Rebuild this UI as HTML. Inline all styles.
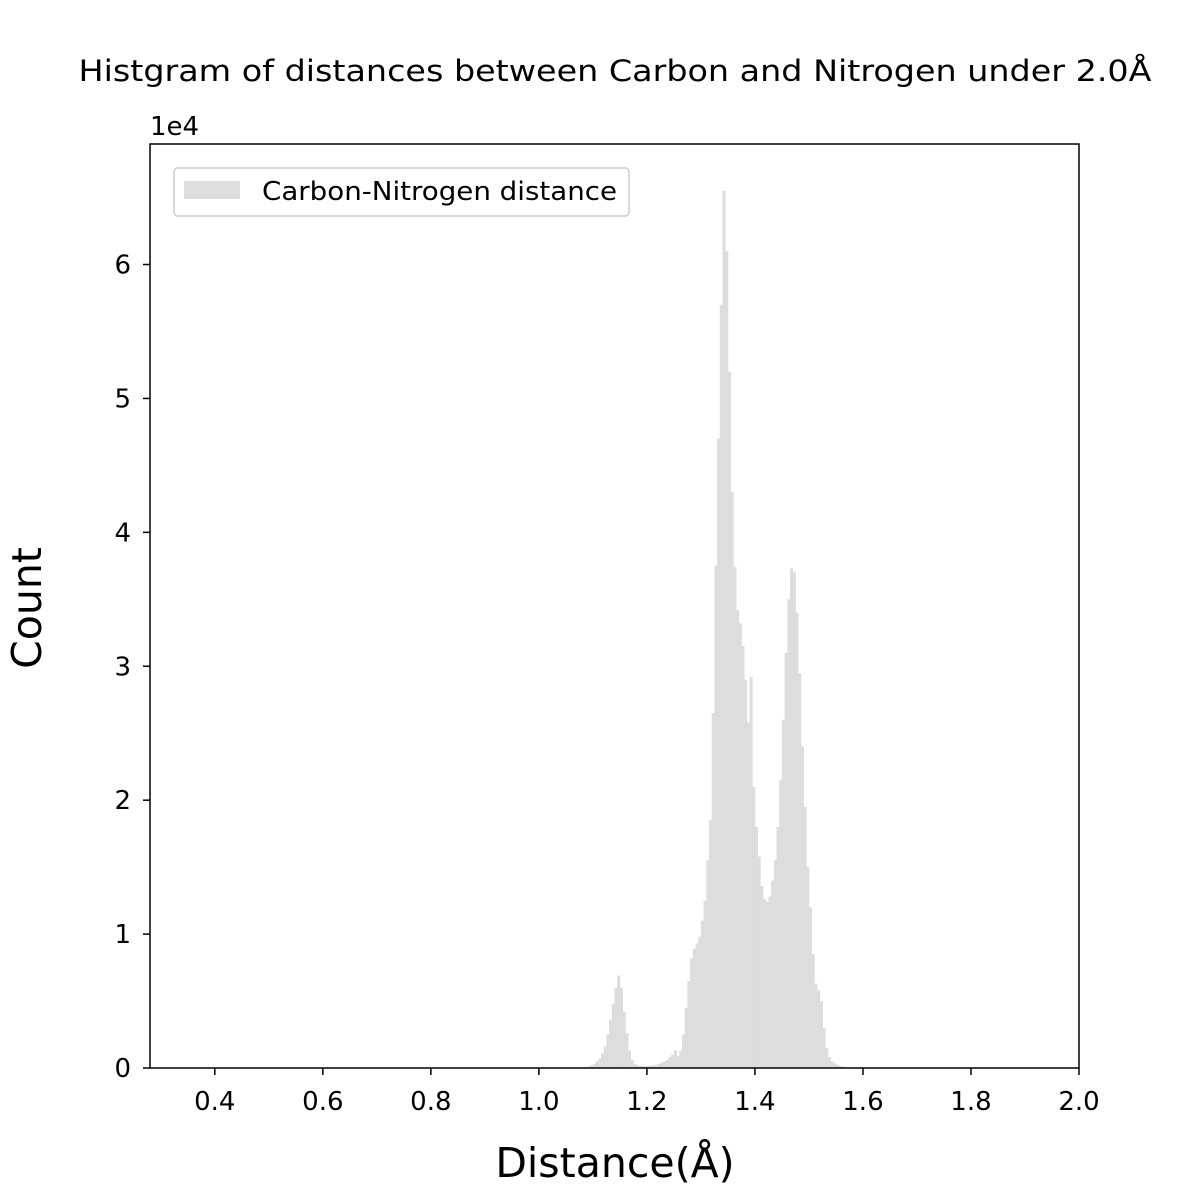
<!DOCTYPE html>
<html><head><meta charset="utf-8"><style>
body{margin:0;background:#fff}
svg{display:block;font-family:"DejaVu Sans","Liberation Sans",sans-serif}
</style></head><body>
<svg id="chart" width="1200" height="1200" viewBox="0 0 1200 1200">
<rect width="1200" height="1200" fill="#fff"/>
<text x="615" y="81" text-anchor="middle" font-size="29" textLength="1073" lengthAdjust="spacingAndGlyphs">Histgram of distances between Carbon and Nitrogen under 2.0Å</text>
<g id="bars"></g>
<g id="xticks"></g>
<g id="yticks"></g>
<rect x="150" y="144" width="929" height="924" fill="none" stroke="#000" stroke-width="1.5"/>
<text x="150" y="135" font-size="26">1e4</text>
<text x="615" y="1177" text-anchor="middle" font-size="41">Distance(Å)</text>
<text transform="translate(41,608) rotate(-90)" text-anchor="middle" font-size="41">Count</text>
<g>
<rect x="174" y="168" width="455" height="48" rx="4" fill="#fff" stroke="#ccc" stroke-width="1.5"/>
<rect x="184" y="181" width="56" height="18" fill="#dddddd"/>
<text x="262" y="200" font-size="26" textLength="355" lengthAdjust="spacingAndGlyphs">Carbon-Nitrogen distance</text>
</g>
</svg>
<script>
const binStart = 1.080;
const binWidth = 0.005;
const counts = [0.05,0.08,0.12,0.2,0.3,0.5,0.7,1.1,1.6,2.5,3.6,4.8,6.0,6.9,6.0,4.2,2.6,1.3,0.6,0.3,
0.2,0.15,0.15,0.15,0.15,0.2,0.2,0.25,0.3,0.4,0.5,0.6,0.8,1.0,1.3,0.9,1.3,2.5,4.5,6.5,8.2,8.9,9.3,9.8,11.0,12.5,15.5,18.5,26.5,37.5,47,57,65.5,61,52,43,37.4,34.2,33.2,31.5,29,25.8,29.2,21,18,15.8,13.6,12.6,12.4,12.8,14,15.5,18,21.5,26,31,35,37.3,37,34,29.5,24,19.5,15,12,8.5,6.3,5.8,5.0,3,1.5,0.8,0.5,0.35,0.25,0.15,0.1,0.08,0.05];
const xTicks = [0.4,0.6,0.8,1.0,1.2,1.4,1.6,1.8,2.0];
const yTicks = [0,1,2,3,4,5,6];
const X0=150,X1=1079,Y0=1068,Y1=144,xmin=0.28,xmax=2.0,ymax=6.9;
const sx=v=>X0+(v-xmin)/(xmax-xmin)*(X1-X0);
const sy=v=>Y0-v/ymax*(Y0-Y1);
const NS="http://www.w3.org/2000/svg";
const bars=document.getElementById('bars');
counts.forEach((c,i)=>{
  const a=binStart+i*binWidth, b=a+binWidth;
  const r=document.createElementNS(NS,'rect');
  r.setAttribute('x',sx(a));r.setAttribute('width',sx(b)-sx(a)+0.4);
  r.setAttribute('y',sy(c/10));r.setAttribute('height',Y0-sy(c/10));
  r.setAttribute('fill','#dddddd');
  
  
  bars.appendChild(r);
});
const xg=document.getElementById('xticks');
xTicks.forEach(t=>{
  const x=sx(t);
  const l=document.createElementNS(NS,'line');
  l.setAttribute('x1',x);l.setAttribute('x2',x);l.setAttribute('y1',Y0);l.setAttribute('y2',Y0+7);l.setAttribute('stroke','#000');l.setAttribute('stroke-width','1.5');
  
  
  xg.appendChild(l);
  const tx=document.createElementNS(NS,'text');
  tx.setAttribute('x',x);tx.setAttribute('y',Y0+42);tx.setAttribute('text-anchor','middle');tx.setAttribute('font-size','26');
  tx.textContent=t.toFixed(1);
  
  
  xg.appendChild(tx);
});
const yg=document.getElementById('yticks');
yTicks.forEach(t=>{
  const y=sy(t);
  const l=document.createElementNS(NS,'line');
  l.setAttribute('x1',X0-7);l.setAttribute('x2',X0);l.setAttribute('y1',y);l.setAttribute('y2',y);l.setAttribute('stroke','#000');l.setAttribute('stroke-width','1.5');
  
  
  yg.appendChild(l);
  const tx=document.createElementNS(NS,'text');
  tx.setAttribute('x',X0-19);tx.setAttribute('y',y+9);tx.setAttribute('text-anchor','end');tx.setAttribute('font-size','26');
  tx.textContent=String(t);
  
  
  yg.appendChild(tx);
});
</script>
</body></html>
